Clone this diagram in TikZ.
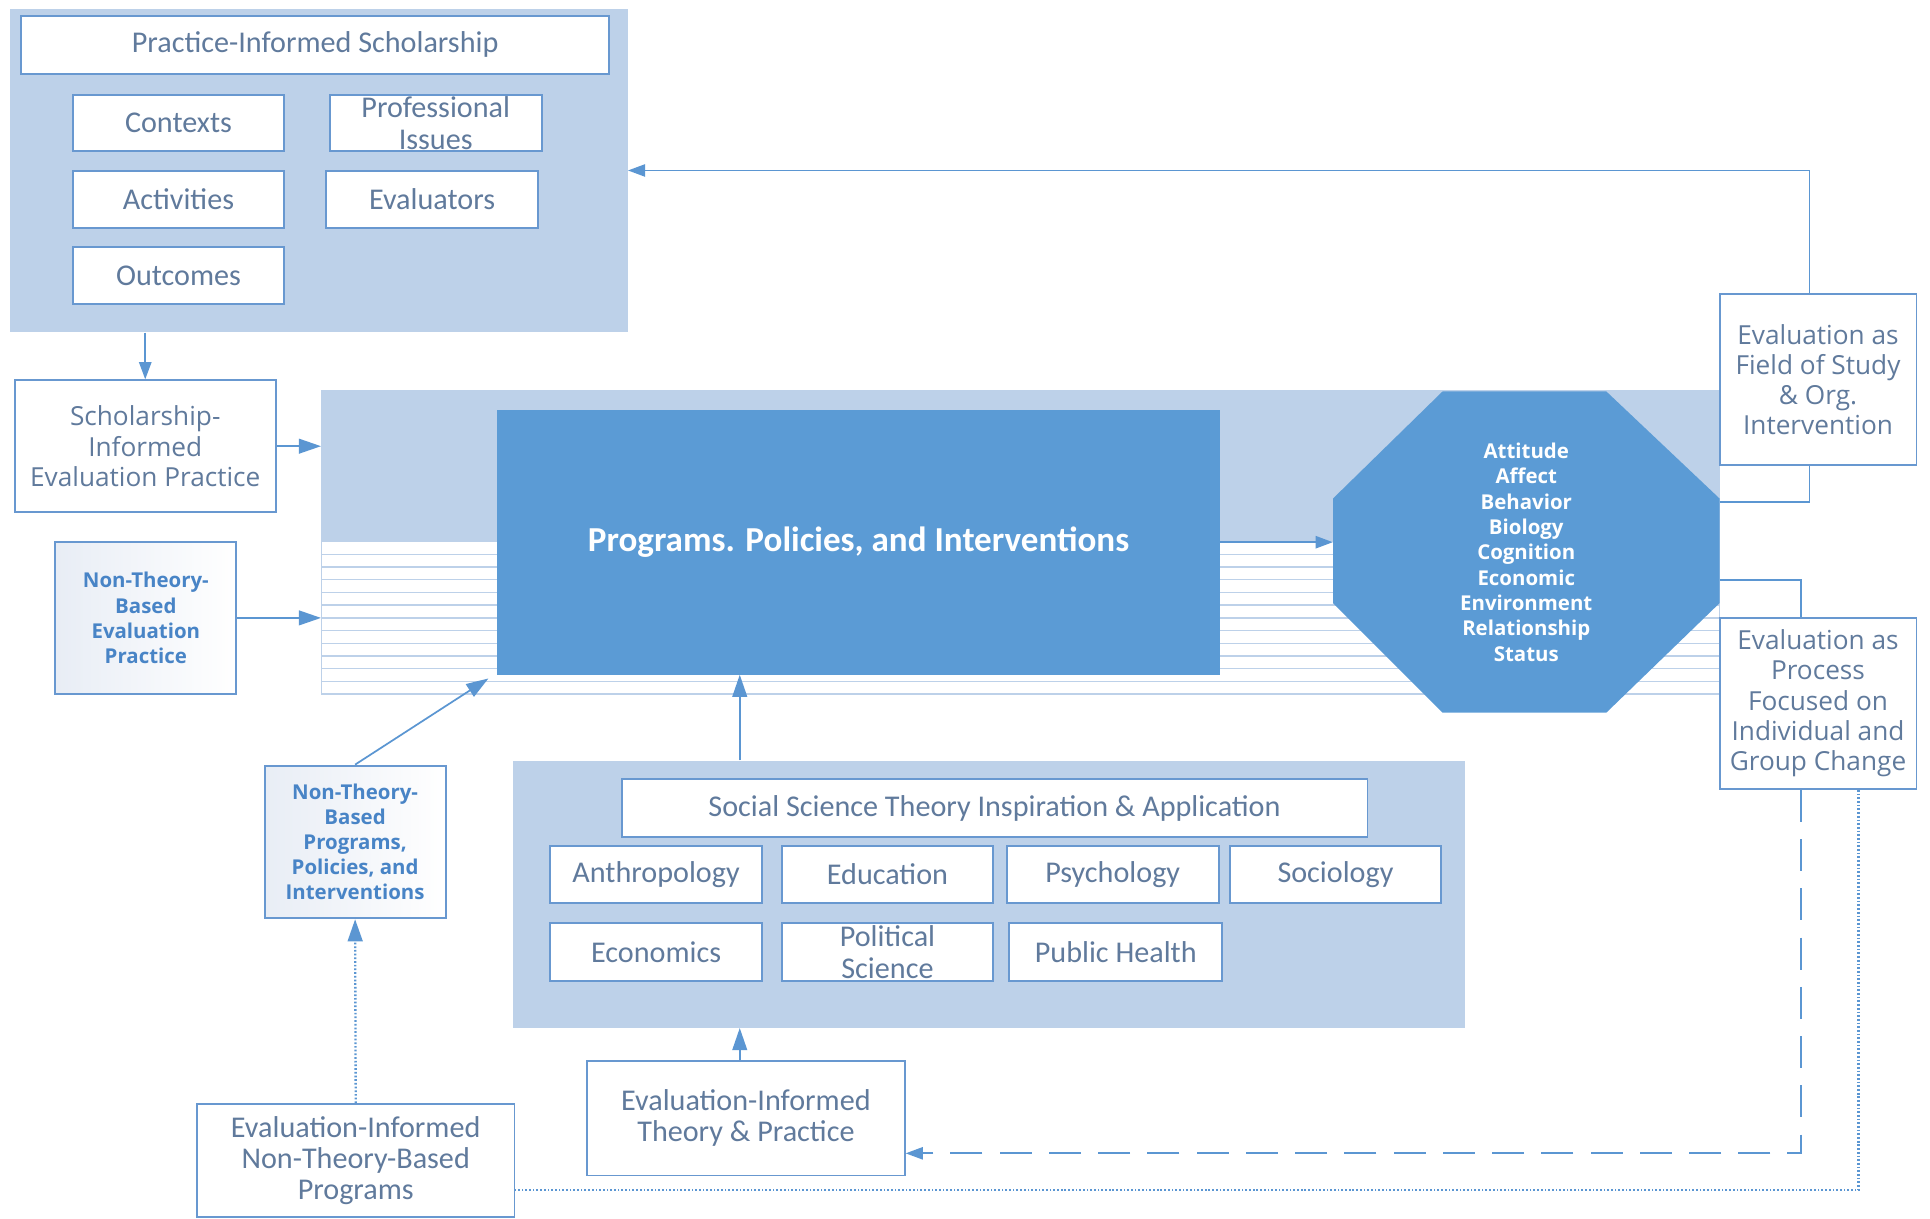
\documentclass[tikz,border=0pt]{standalone}
\usepackage{fontspec}
\setmainfont{Carlito}
\newfontfamily\segoe{Open Sans}
\usetikzlibrary{arrows.meta,calc}
\definecolor{panel}{RGB}{189,209,233}
\definecolor{mainblue}{RGB}{91,155,213}
\definecolor{edge}{RGB}{104,152,208}
\definecolor{txt}{RGB}{96,122,156}
\definecolor{boldtxt}{RGB}{72,132,198}
\definecolor{conn}{RGB}{91,150,210}
\definecolor{shade}{RGB}{232,237,245}
\begin{document}
\begin{tikzpicture}[x=1pt,y=-1pt,
  sz/.style 2 args={minimum width=#1,minimum height=#2},
  wbox/.style={draw=edge,line width=1.6pt,fill=white,text=txt,align=center,inner sep=0pt,
    font=\fontsize{24.5}{25.5}\selectfont},
  sbox/.style={draw=edge,line width=1.6pt,fill=white,text=txt,align=center,inner sep=0pt,
    font=\segoe\fontsize{21.3}{24.6}\selectfont},
  bbox/.style={draw=edge,line width=1.6pt,left color=shade,right color=white,text=boldtxt,align=center,inner sep=0pt,
    font=\segoe\bfseries\fontsize{16.6}{20.4}\selectfont},
  panelbox/.style={fill=panel,inner sep=0pt},
  conn/.style={draw=conn,line width=1.4pt},
  arr/.style={conn,-{Triangle[length=18pt,width=12pt]}},
  sarr/.style={conn,-{Triangle[length=14pt,width=10pt]}},
  dotline/.style={line width=1.9pt,dash pattern=on 1.4pt off 1.6pt},
]
\useasboundingbox (0,0) rectangle (1568,990);

% ---------- top panel ----------
\node[panelbox,sz={502}{263}] (top) at (259,138.5) {};
\node[wbox,sz={478}{47}] (pis) at (256,36.5) {Practice-Informed Scholarship};
\node[wbox,sz={172}{46}] (contexts) at (145,100) {Contexts};
\node[wbox,sz={172}{46}] (prof) at (354,100) {Professional\\Issues};
\node[wbox,sz={172}{46}] (activities) at (145,162) {Activities};
\node[wbox,sz={172}{46}] (evaluators) at (351,162) {Evaluators};
\node[wbox,sz={172}{46}] (outcomes) at (145,224) {Outcomes};

% ---------- main panel ----------
\node[inner sep=0pt,sz={1136}{247}] (mainp) at (829,440.5) {};
\fill[panel] (261,317) rectangle (1397,440);
\draw[panel,line width=1.2pt] (261,440) rectangle (1397,564);
\foreach \k in {1,...,11} {
  \draw[panel,line width=1.2pt] (261,{440+\k*10.33}) -- (1397,{440+\k*10.33});
}
\node[fill=mainblue,inner sep=0pt,sz={587}{215},text=white,
  font=\bfseries\fontsize{28.5}{30}\selectfont] (ppi) at (697.5,440.5)
  {Programs. Policies, and Interventions};
\fill[mainblue] (1172,318) -- (1305,318) -- (1397,405) -- (1397,490) -- (1305,579)
  -- (1172,579) -- (1083,490) -- (1083,405) -- cycle;
\node[inner sep=0pt,sz={314}{261},align=center,text=white,
  font=\segoe\bfseries\fontsize{16.6}{20.6}\selectfont] (oct) at (1240,448.5)
  {Attitude\\Affect\\Behavior\\Biology\\Cognition\\Economic\\Environment\\Relationship\\Status};

% ---------- left boxes ----------
\node[sbox,sz={212}{107}] (siep) at (118,362.5) {Scholarship-\\Informed\\Evaluation Practice};
\node[bbox,sz={147}{124}] (ntbep) at (118.5,502) {Non-Theory-\\Based\\Evaluation\\Practice};
\node[bbox,sz={147}{124}] (ntbppi) at (288.5,684) {Non-Theory-\\Based\\Programs,\\Policies, and\\Interventions};

% ---------- right boxes ----------
\node[sbox,sz={160}{139}] (efs) at (1477,308.5) {Evaluation as\\Field of Study\\\& Org.\\Intervention};
\node[sbox,sz={160}{139}] (epf) at (1477,571.5) {Evaluation as\\Process\\Focused on\\Individual and\\Group Change};

% ---------- social science panel ----------
\node[panelbox,sz={773}{217}] (ss) at (803.5,726.5) {};
\node[wbox,sz={606}{47}] (sst) at (808,656.5) {Social Science Theory Inspiration \& Application};
\node[wbox,sz={172}{47}] (anth) at (533,710.5) {Anthropology};
\node[wbox,sz={172}{47}] (edu) at (721,710.5) {Education};
\node[wbox,sz={172}{47}] (psy) at (904,710.5) {Psychology};
\node[wbox,sz={172}{47}] (soc) at (1085,710.5) {Sociology};
\node[wbox,sz={172}{47}] (econ) at (533,773.5) {Economics};
\node[wbox,sz={172}{47}] (pol) at (721,773.5) {Political\\Science};
\node[wbox,sz={173}{47}] (ph) at (906.5,773.5) {Public Health};

% ---------- bottom boxes ----------
\node[wbox,sz={258}{93}] (eitp) at (606,908.5) {Evaluation-Informed\\Theory \& Practice};
\node[wbox,sz={258}{92}] (eintbp) at (289,943) {Evaluation-Informed\\Non-Theory-Based\\Programs};

% ---------- connectors ----------
\draw[sarr] (top.south -| siep.north) -- (siep.north);
\draw[arr] (siep.east) -- (siep.east -| mainp.west);
\draw[arr] (ntbep.east) -- (ntbep.east -| mainp.west);
\draw[arr] (ntbppi.north) -- ($(ppi.south west)+(-7,3)$);
\draw[sarr] (ppi.east) -- (ppi.east -| oct.west);
\coordinate (o1) at (1397,408);
\coordinate (o2) at (1397,471);
\draw[conn] (o1) -| ($(efs.south)+(-7,0)$);
\draw[sarr] ($(efs.north)+(-7,0)$) |- (top.east);
\draw[conn] (o2) -| ($(epf.north)+(-14,0)$);
\draw[sarr,dash pattern=on 26pt off 14pt] ($(epf.south)+(-14,0)$) |- ($(eitp.east)+(0,28.5)$);
\draw[conn,dotline] ($(epf.south)+(33,0)$) |- ($(eintbp.east)+(0,24)$);
\draw[arr,dotline] (eintbp.north) -- (ntbppi.south);
\coordinate (e1) at ($(eitp.north)+(-5,0)$);
\draw[arr] (e1) -- (e1 |- ss.south);
\coordinate (e2) at (e1 |- ss.north);
\draw[arr] (e2) -- (e2 |- ppi.south);
\end{tikzpicture}
\end{document}
